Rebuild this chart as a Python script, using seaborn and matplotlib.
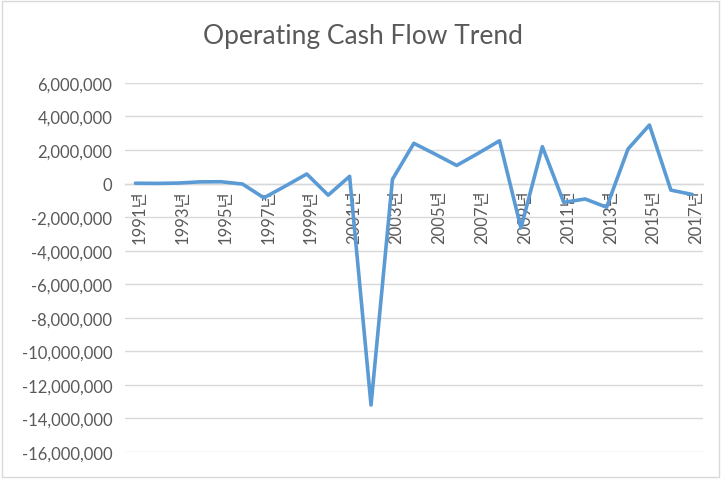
import matplotlib
matplotlib.use("Agg")
import matplotlib.pyplot as plt
import matplotlib.ticker as mticker
import matplotlib.transforms as mtransforms
from matplotlib.patches import Rectangle
import seaborn as sns
import pandas as pd

# operating cash flow
years = list(range(1991, 2018))
cash_flow = [20000, 10000, 30000, 100000, 110000, -30000, -850000, -150000,
             570000, -690000, 430000, -13200000, 250000, 2400000, 1750000,
             1080000, 1800000, 2550000, -2650000, 2200000, -1120000, -920000,
             -1410000, 2060000, 3490000, -390000, -650000]
tick_years = list(range(1991, 2018, 2))
tick_labels = [f"{y}년" for y in tick_years]
y_ticks = list(range(-16000000, 6000001, 2000000))

df = pd.DataFrame({"year": years, "cash_flow": cash_flow})

sns.set_style("white")
plt.rcParams["font.family"] = ["Lato", "Noto Sans CJK KR", "DejaVu Sans"]

text_color = "#595959"
grid_color = "#D9D9D9"

fig = plt.figure(figsize=(7.21, 4.85), dpi=100)
ax = fig.add_axes([0.173, 0.066, 0.802, 0.761])

sns.lineplot(data=df, x="year", y="cash_flow", color="#5B9BD5", linewidth=2.6, ax=ax)

ax.set_ylim(-16000000, 6000000)
ax.set_xlim(years[0] - 0.5, years[-1] + 0.5)
ax.set_yticks(y_ticks)
ax.yaxis.set_major_formatter(mticker.FuncFormatter(lambda v, p: f"{int(v):,}"))
ax.set_xticks(tick_years)
ax.set_xticklabels(tick_labels)
ax.grid(axis="y", color=grid_color, linewidth=1)
ax.set_axisbelow(True)

for s in ["left", "right", "top"]:
    ax.spines[s].set_visible(False)
ax.spines["bottom"].set_position(("data", 0))
ax.spines["bottom"].set_color(grid_color)
ax.spines["bottom"].set_linewidth(1)
ax.spines["bottom"].set_zorder(0.5)

ax.tick_params(axis="y", length=0, pad=9, labelsize=12, labelcolor=text_color)
ax.tick_params(axis="x", length=0, pad=4, labelsize=12, labelcolor=text_color,
               labelrotation=90)
# Excel puts the rotated labels a little right of the category centre
shift = mtransforms.ScaledTranslation(3 / 72, 0, fig.dpi_scale_trans)
for lbl in ax.get_xticklabels():
    lbl.set_transform(lbl.get_transform() + shift)
ax.set_xlabel("")
ax.set_ylabel("")

fig.text(0.504, 0.924, "Operating Cash Flow Trend", ha="center", va="center",
         fontsize=19, color=text_color)

fig.patches.append(Rectangle((0.003, 0.015), 0.994, 0.98, transform=fig.transFigure,
                             fill=False, edgecolor=grid_color, linewidth=1))

fig.savefig("out.png", dpi=100)
